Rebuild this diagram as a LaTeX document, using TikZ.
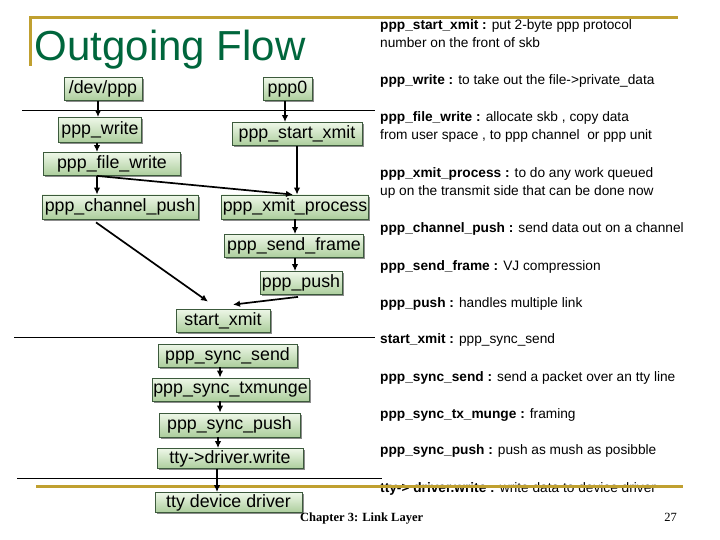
\documentclass[tikz,border=0pt]{standalone}
\usepackage{fontspec}
\setmainfont{Liberation Sans}
\newfontfamily\footfont{Liberation Serif}
\usetikzlibrary{shadows,calc,arrows.meta}
\definecolor{gold}{RGB}{192,160,48}
\definecolor{titlegreen}{RGB}{0,102,60}
\definecolor{boxtop}{RGB}{238,247,232}
\definecolor{boxbot}{RGB}{172,206,156}
\definecolor{boxline}{RGB}{60,90,60}
\begin{document}
\begin{tikzpicture}[x=1pt,y=-1pt,
  fn/.style={draw=boxline, line width=0.8pt, top color=boxtop, bottom color=boxbot,
    inner sep=0pt, minimum height=23pt, font=\fontsize{17.8}{20}\selectfont,
    drop shadow={shadow xshift=1.6pt, shadow yshift=-1.6pt, fill=black!45, opacity=1}},
  rt/.style={anchor=base west, inner sep=0pt, font=\fontsize{13.7}{16}\selectfont},
  arr/.style={-{Latex[length=7pt,width=6.5pt]}, line width=1.7pt},
  sep/.style={line width=0.9pt},
  goldline/.style={gold, line width=3pt}]
\useasboundingbox (0,0) rectangle (720,540);
% title
\node[anchor=base west, inner sep=0pt, text=titlegreen, font=\fontsize{42}{46}\selectfont] (title) at (34.5,61) {Outgoing Flow};
% separators
\draw[sep] (22,110) -- (375,110);
\draw[sep] (14,337) -- (375,337);
\draw[sep] (17,478) -- (382,478);
% nodes
\node[fn, minimum width=78pt] (devppp) at (103,89) {/dev/ppp};
\node[fn, minimum width=49pt] (ppp0) at (287.5,89) {ppp0};
\node[fn, minimum width=83pt, minimum height=25pt] (pppwrite) at (100,130) {ppp\_write};
\node[fn, minimum width=130pt] (startxmit) at (297,134) {ppp\_start\_xmit};
\node[fn, minimum width=137pt] (filewrite) at (112,164) {ppp\_file\_write};
\node[fn, minimum width=156pt, minimum height=24pt] (chpush) at (120,207) {ppp\_channel\_push};
\node[fn, minimum width=147pt, minimum height=24pt] (xmitproc) at (295,207) {ppp\_xmit\_process};
\node[fn, minimum width=139pt] (sendframe) at (294,246) {ppp\_send\_frame};
\node[fn, minimum width=82pt] (push) at (301,283) {ppp\_push};
\node[fn, minimum width=94pt] (sx) at (223,320.5) {start\_xmit};
\node[fn, minimum width=139pt] (syncsend) at (227.5,355.5) {ppp\_sync\_send};
\node[fn, minimum width=157pt] (txmunge) at (230.5,389.5) {ppp\_sync\_txmunge};
\node[fn, minimum width=141pt, minimum height=24pt] (syncpush) at (229.5,425) {ppp\_sync\_push};
\node[fn, minimum width=146pt, minimum height=20pt] (ttywrite) at (230,458.5) {tty->driver.write};
\node[fn, minimum width=147pt, minimum height=20pt] (ttydev) at (228.5,502.5) {tty device driver};
% right column text
\node[rt] (d1a) at (380,30) {\textbf{ppp\_start\_xmit :} put 2-byte ppp protocol};
\node[rt] (d1b) at (380,48) {number on the front of skb};
\node[rt] (d2) at (380,85) {\textbf{ppp\_write :} to take out the file->private\_data};
\node[rt] (d3a) at (380,122) {\textbf{ppp\_file\_write :} allocate skb , copy data};
\node[rt] (d3b) at (380,140) {from user space , to ppp channel \ or ppp unit};
\node[rt] (d4a) at (380,178) {\textbf{ppp\_xmit\_process :} to do any work queued};
\node[rt] (d4b) at (380,196) {up on the transmit side that can be done now};
\node[rt] (d5) at (380,233) {\textbf{ppp\_channel\_push :} send data out on a channel};
\node[rt] (d6) at (380,270) {\textbf{ppp\_send\_frame :} VJ compression};
\node[rt] (d7) at (380,307) {\textbf{ppp\_push :} handles multiple link};
\node[rt] (d8) at (380,343) {\textbf{start\_xmit :} ppp\_sync\_send};
\node[rt] (d9) at (380,381) {\textbf{ppp\_sync\_send :} send a packet over an tty line};
\node[rt] (d10) at (380,418) {\textbf{ppp\_sync\_tx\_munge :} framing};
\node[rt] (d11) at (380,454) {\textbf{ppp\_sync\_push :} push as mush as posibble};
\node[rt] (d12) at (380,492) {\textbf{tty-> driver.write :} write data to device driver};
% gold rules
\draw[goldline] (30,18) -- (678,18);
\draw[goldline] (30,16.5) -- (30,66);
\draw[goldline] (36,486) -- (683,486);
% footer
\node[anchor=base west, inner sep=0pt, font=\footfont\bfseries\fontsize{12.5}{14}\selectfont] (foot) at (300,521) {Chapter 3: Link Layer};
\node[anchor=base east, inner sep=0pt, font=\footfont\fontsize{12.5}{14}\selectfont] (pg) at (677,521) {27};
% arrows
\draw[arr] ([xshift=-5pt]devppp.south) -- ([xshift=-5pt]devppp.south |- pppwrite.north);
\draw[arr] ([xshift=-3pt]pppwrite.south) -- ([xshift=-3pt]pppwrite.south |- filewrite.north);
\draw[arr] ([xshift=-2.5pt]ppp0.south) -- ([xshift=-2.5pt]ppp0.south |- startxmit.north);
\draw[arr] (startxmit.south) -- (startxmit.south |- xmitproc.north);
\draw[arr] ([xshift=-15pt]filewrite.south) -- ([xshift=-15pt]filewrite.south |- chpush.north);
\draw[arr] ([xshift=-15pt]filewrite.south) -- ([xshift=-2pt]xmitproc.north);
\draw[arr] ($(chpush.south)+(-24,3)$) -- ($(sx.north)+(-15,-7)$);
\draw[arr] (xmitproc.south) -- (xmitproc.south |- sendframe.north);
\draw[arr] ([xshift=1pt]sendframe.south) -- ([xshift=1pt]sendframe.south |- push.north);
\draw[arr] ($(push.south)+(-3,2)$) -- ($(sx.north)+(10,-4)$);
\draw[arr] ([xshift=-7.5pt]syncsend.south) -- ([xshift=-7.5pt]syncsend.south |- txmunge.north);
\draw[arr] ([xshift=-10.5pt]txmunge.south) -- ([xshift=-10.5pt]txmunge.south |- syncpush.north);
\draw[arr] ([xshift=-11.5pt]syncpush.south) -- ([xshift=-11.5pt]syncpush.south |- ttywrite.north);
\draw[arr] ([xshift=-13pt]ttywrite.south) -- ([xshift=-13pt]ttywrite.south |- ttydev.north);
\end{tikzpicture}
\end{document}
